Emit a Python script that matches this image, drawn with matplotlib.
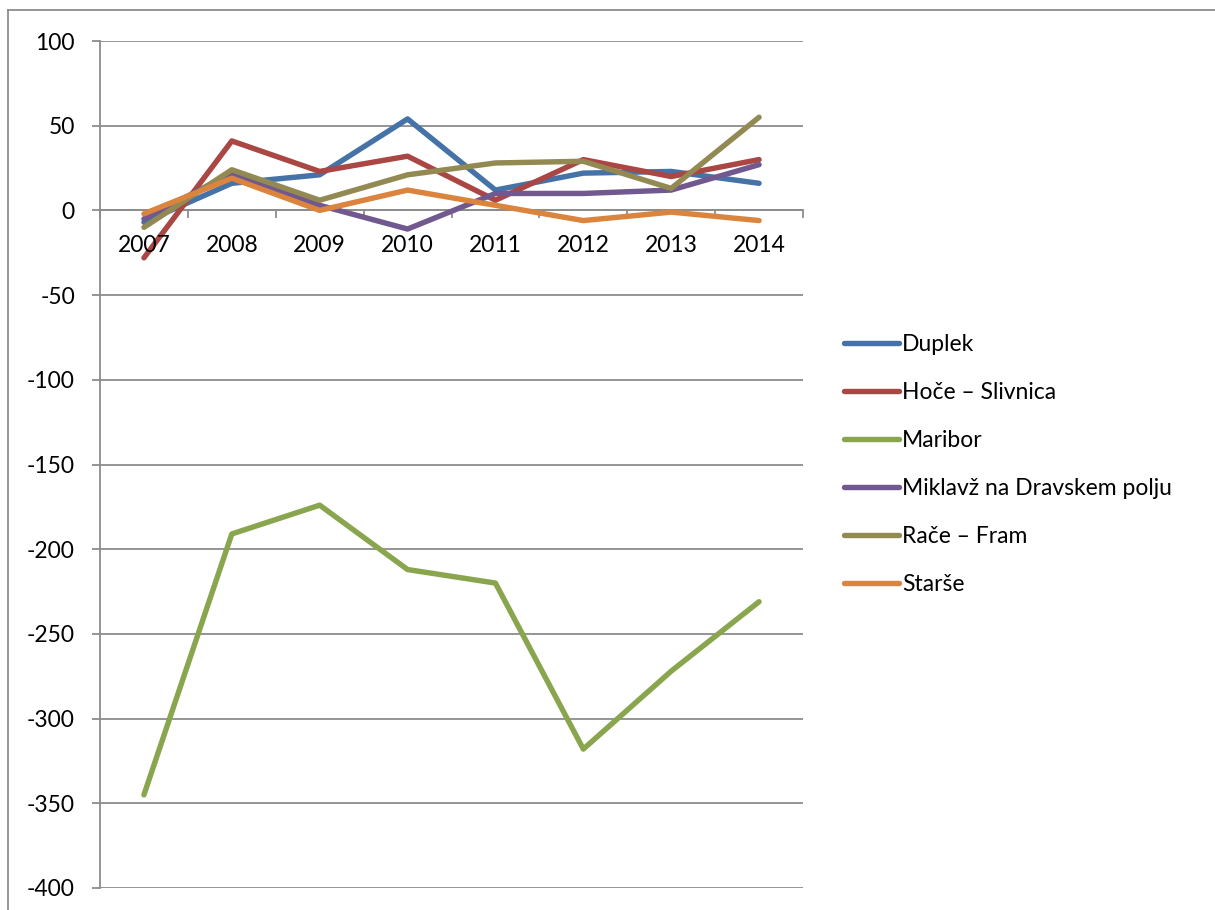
import matplotlib.pyplot as plt
from matplotlib.lines import Line2D

years = ["2007", "2008", "2009", "2010", "2011", "2012", "2013", "2014"]
duplek = [-7, 16, 21, 54, 12, 22, 23, 16]
hoce_slivnica = [-28, 41, 23, 32, 6, 30, 20, 30]
maribor = [-345, -191, -174, -212, -220, -318, -272, -231]
miklavz = [-5, 22, 3, -11, 10, 10, 12, 27]
race_fram = [-10, 24, 6, 21, 28, 29, 13, 55]
starse = [-2, 19, 0, 12, 3, -6, -1, -6]

labels = ["Duplek", "Hoče – Slivnica", "Maribor", "Miklavž na Dravskem polju",
          "Rače – Fram", "Starše"]
colors = ["#4572A7", "#AA4643", "#89A54E", "#71588F", "#938953", "#DB843D"]

plt.rcParams["font.family"] = ["Lato", "DejaVu Sans"]
plt.rcParams["axes.unicode_minus"] = False
fs = 16.5

fig = plt.figure(figsize=(12.15, 9.1), dpi=100)
ax = fig.add_axes([100 / 1215, 1 - 888 / 910, 703 / 1215, 847 / 910])

x = range(len(years))
series = [duplek, hoce_slivnica, maribor, miklavz, race_fram, starse]
for vals, lab, col in zip(series, labels, colors):
    ax.plot(x, vals, color=col, lw=3.9, label=lab, solid_capstyle="round",
            solid_joinstyle="round")

ax.set_xlim(-0.5, 7.5)
ax.set_ylim(-400, 100)
ax.set_yticks(range(-400, 101, 50))
ax.yaxis.grid(True, color="#8c8c8c", lw=1.3)
ax.set_axisbelow(True)

for s in ["top", "right", "bottom"]:
    ax.spines[s].set_visible(False)
ax.spines["left"].set_color("#8c8c8c")
ax.spines["left"].set_linewidth(1.3)

# category axis sits at y = 0
ax.axhline(0, color="#8c8c8c", lw=1.3, zorder=1)
ax.set_xticks([])
for i in range(len(years) + 1):
    ax.plot([i - 0.5, i - 0.5], [0, -4], color="#8c8c8c", lw=1.3,
            clip_on=False, zorder=1)
for i, yr in enumerate(years):
    ax.text(i, -20.5, yr, ha="center", va="center", fontsize=fs)

ax.tick_params(axis="y", length=6, width=1.3, color="#8c8c8c",
               labelsize=fs, pad=12)

leg = fig.legend(loc="upper left", bbox_to_anchor=(835 / 1215, 1 - 325 / 910),
                 frameon=False, fontsize=fs, handlelength=2.4,
                 handletextpad=0.12, labelspacing=1.18, borderaxespad=0)

# outer chart border
fig.add_artist(Line2D([8 / 1215, 8 / 1215], [0, 1 - 10 / 910],
                      transform=fig.transFigure, color="#8c8c8c", lw=1.3))
fig.add_artist(Line2D([8 / 1215, 1], [1 - 10 / 910, 1 - 10 / 910],
                      transform=fig.transFigure, color="#8c8c8c", lw=1.3))

fig.savefig("out.png", dpi=100)
